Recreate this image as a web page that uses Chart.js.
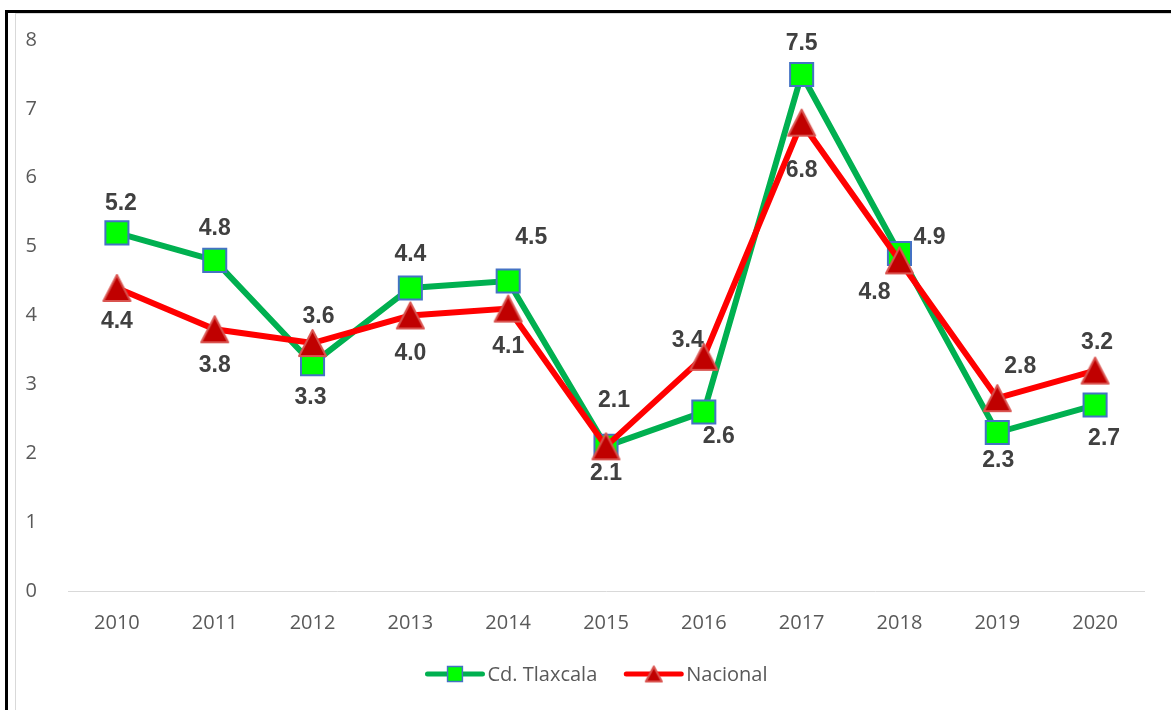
<!DOCTYPE html>
<html>
<head>
<meta charset="utf-8">
<script src="https://cdn.jsdelivr.net/npm/chart.js@4.4.1/dist/chart.umd.min.js"></script>
<style>
    body { margin: 0; background: #fff; overflow: hidden; }
    .frame { position: absolute; left: 5px; top: 10px; width: 1180px; height: 720px; border-left: 3px solid #000; border-top: 3px solid #000; }
    .inner { position: absolute; left: 15px; top: 13px; width: 1170px; height: 720px; border-left: 1px solid #d9d9d9; border-top: 1px solid #d9d9d9; }
    #chart1 { position: absolute; left: 0; top: 0; }
</style>
</head>
<body>
<div class="frame"></div>
<div class="inner"></div>
<canvas id="chart1" width="1171" height="710"></canvas>
<script>
const years = ['2010', '2011', '2012', '2013', '2014', '2015', '2016', '2017', '2018', '2019', '2020'];
const tlaxcala = [5.2, 4.8, 3.3, 4.4, 4.5, 2.1, 2.6, 7.5, 4.9, 2.3, 2.7];
const nacional = [4.4, 3.8, 3.6, 4.0, 4.1, 2.1, 3.4, 6.8, 4.8, 2.8, 3.2];

// label offsets from the point (px)
const tlaxOffsets = [[4, -29], [0, -32], [-2, 34], [0, -33], [23, -43], [8, -46], [15, 25], [0, -31], [30, -16], [1, 28], [9, 34]];
const nacOffsets = [[0, 34], [0, 36], [6, -26], [0, 38], [0, 38], [0, 27], [-16, -16], [0, 48], [-25, 32], [23, -31], [2, -28]];

function makeTriangle(w, h) {
    const cv = document.createElement('canvas');
    cv.width = w + 4;
    cv.height = h + 4;
    const g = cv.getContext('2d');
    g.fillStyle = '#C00000';
    g.strokeStyle = '#D9534F';
    g.lineWidth = 2;
    g.lineJoin = 'round';
    g.beginPath();
    g.moveTo(cv.width / 2, 2);
    g.lineTo(cv.width - 2, cv.height - 2);
    g.lineTo(2, cv.height - 2);
    g.closePath();
    g.fill();
    g.stroke();
    return cv;
}
const bigTri = makeTriangle(27, 26);
const smallTri = makeTriangle(16, 15);

const valueLabels = {
    id: 'valueLabels',
    afterDatasetsDraw(chart) {
        const ctx = chart.ctx;
        ctx.save();
        ctx.font = 'bold 23px "Liberation Sans", Arial';
        ctx.fillStyle = '#404040';
        ctx.textAlign = 'center';
        ctx.textBaseline = 'middle';
        chart.data.datasets.forEach((ds, i) => {
            const meta = chart.getDatasetMeta(i);
            meta.data.forEach((pt, j) => {
                const off = ds.labelOffsets[j];
                ctx.fillText(ds.data[j].toFixed(1), pt.x + off[0], pt.y + off[1]);
            });
        });
        ctx.restore();
    }
};

const lineLegend = {
    id: 'lineLegend',
    afterDraw(chart) {
        const ctx = chart.ctx;
        ctx.save();
        ctx.font = '20px "Open Sans"';
        ctx.textBaseline = 'middle';
        const sets = chart.data.datasets;
        const lineW = 55, gap = 5, between = 29;
        let total = 0;
        sets.forEach((ds, i) => {
            total += lineW + gap + ctx.measureText(ds.label).width;
            if (i < sets.length - 1) total += between;
        });
        let x = chart.width / 2 + 12 - total / 2;
        const y = 674;
        sets.forEach(ds => {
            ctx.strokeStyle = ds.borderColor;
            ctx.lineWidth = 5;
            ctx.lineCap = 'round';
            ctx.beginPath();
            ctx.moveTo(x, y);
            ctx.lineTo(x + lineW, y);
            ctx.stroke();
            ctx.fillStyle = ds.pointBackgroundColor;
            ctx.strokeStyle = ds.pointBorderColor;
            ctx.lineWidth = 1.5;
            Chart.helpers.drawPoint(ctx, { pointStyle: ds.legendStyle, radius: 10.5, borderWidth: 1.5 }, x + lineW / 2, y);
            ctx.fillStyle = '#595959';
            ctx.fillText(ds.label, x + lineW + gap, y + 1);
            x += lineW + gap + ctx.measureText(ds.label).width + between;
        });
        ctx.restore();
    }
};

const c = document.getElementById('chart1');
new Chart(c, {
    type: 'line',
    data: {
        labels: years,
        datasets: [{
            label: 'Cd. Tlaxcala',
            data: tlaxcala,
            labelOffsets: tlaxOffsets,
            order: 2,
            borderColor: '#00B050',
            borderWidth: 6,
            pointStyle: 'rect',
            legendStyle: 'rect',
            pointRadius: 16.3,
            pointHoverRadius: 16.3,
            pointBackgroundColor: '#00FF00',
            pointBorderColor: '#4472C4',
            pointBorderWidth: 2,
            tension: 0
        },
        {
            label: 'Nacional',
            data: nacional,
            labelOffsets: nacOffsets,
            order: 1,
            borderColor: '#FF0000',
            borderWidth: 6,
            pointStyle: bigTri,
            legendStyle: smallTri,
            pointRadius: 15,
            pointHoverRadius: 15,
            pointBackgroundColor: '#C00000',
            pointBorderColor: '#D9534F',
            tension: 0
        }]
    },
    options: {
        responsive: false,
        animation: false,
        layout: { padding: { top: 40, right: 27, left: 0, bottom: 0 } },
        scales: {
            x: {
                offset: true,
                grid: { display: false },
                border: { display: true, color: '#d9d9d9', width: 1 },
                ticks: { color: '#595959', font: { family: 'Open Sans', size: 20 }, padding: 12 },
                afterFit: s => { s.height = 119; }
            },
            y: {
                min: 0,
                max: 8,
                grid: { display: false },
                border: { display: false },
                ticks: { stepSize: 1, color: '#595959', font: { family: 'Open Sans', size: 20 }, padding: 23 },
                afterFit: s => { s.width = 68; }
            }
        },
        plugins: {
            legend: { display: false },
            tooltip: { enabled: false }
        }
    },
    plugins: [valueLabels, lineLegend]
});
</script>
</body>
</html>
